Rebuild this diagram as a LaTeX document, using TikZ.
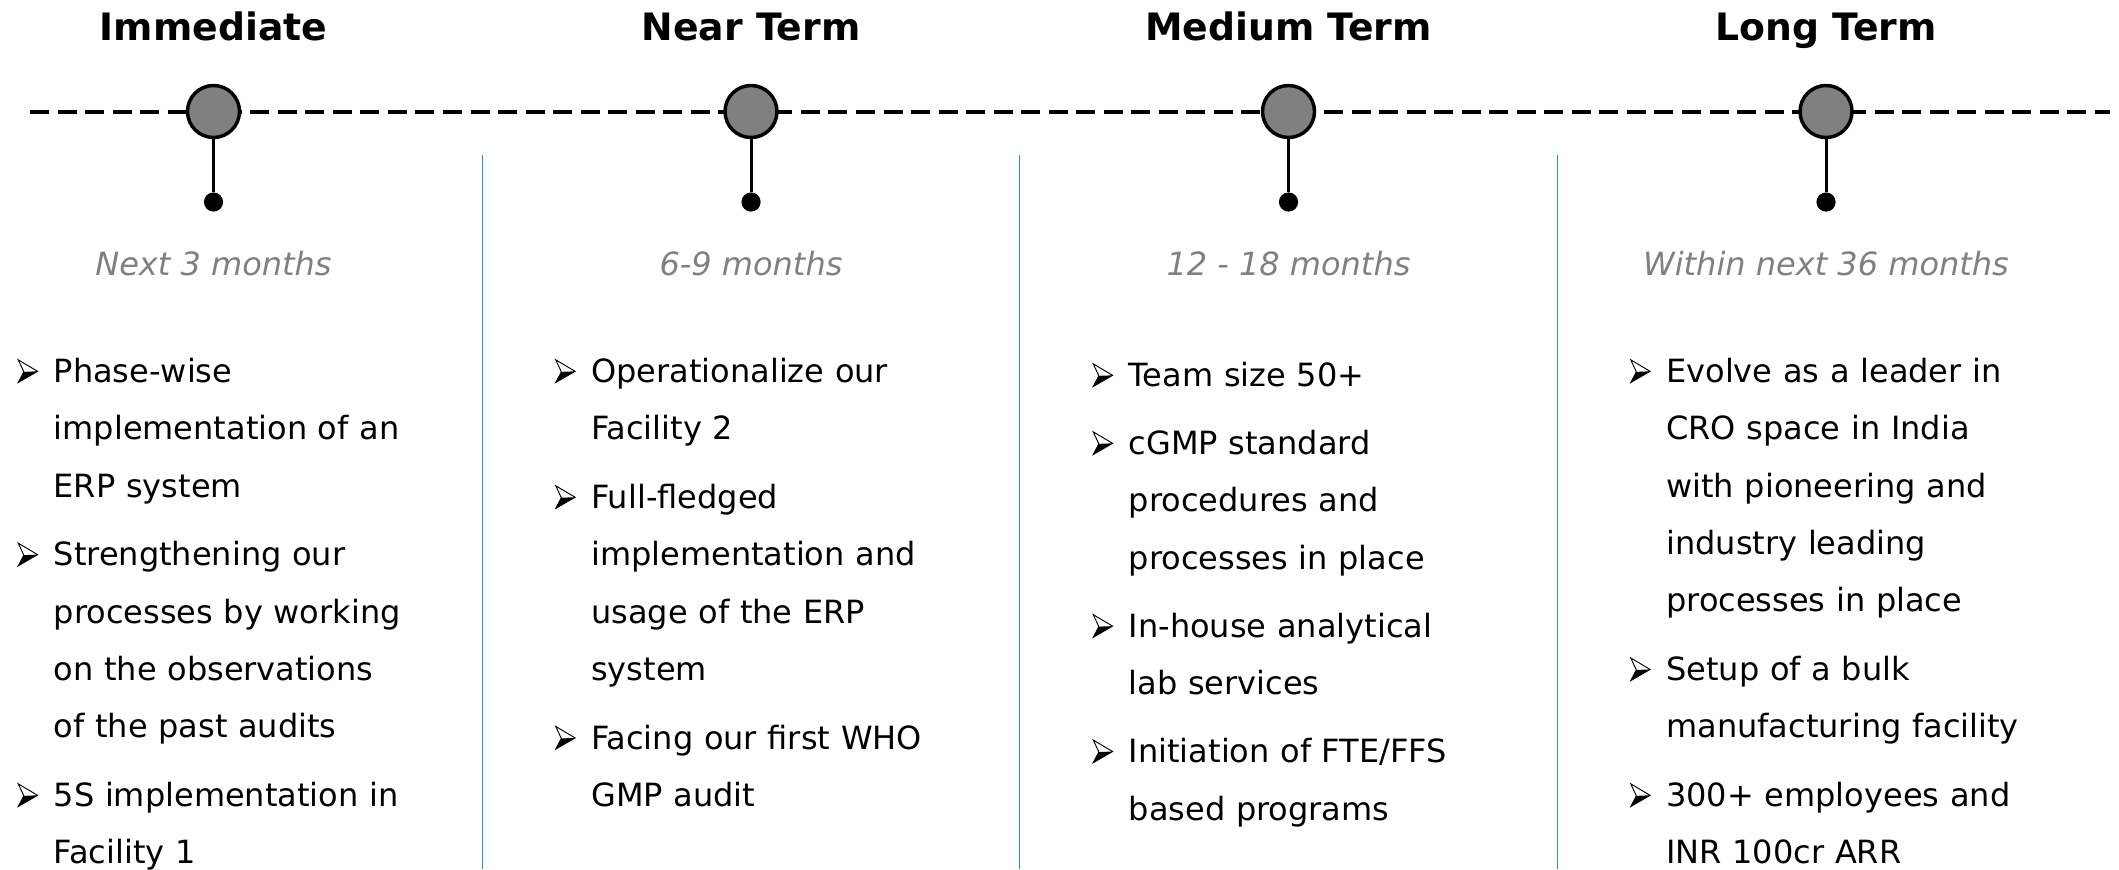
\documentclass[tikz,border=0pt]{standalone}
\usepackage{fontspec}
\setmainfont{DejaVu Sans}
\usetikzlibrary{positioning}
\definecolor{sepblue}{RGB}{32,152,200}
\definecolor{subgray}{RGB}{128,128,128}
\tikzset{
	phase/.style={font=\fontsize{28.3pt}{34pt}\selectfont\bfseries, anchor=base, inner sep=0pt},
	milestone/.style={circle, draw=black, line width=2.6pt, fill=gray, minimum size=39pt, inner sep=0pt},
	enddot/.style={circle, fill=black, minimum size=14.4pt, inner sep=0pt},
	period/.style={font=\fontsize{24pt}{29pt}\selectfont\itshape, text=subgray, anchor=base, inner sep=0pt},
	goal/.style={font=\fontsize{24pt}{43pt}\selectfont, anchor=base west, align=left, text width=300pt, inner sep=0pt},
	stem/.style={line width=2.25pt},
	timeline/.style={line width=3pt, dash pattern=on 14.25pt off 6.4pt},
	divider/.style={draw=sepblue, line width=1.1pt}
}
% 3-D arrowhead bullet, hung into the left margin of an item
\newcommand{\arrowitem}{\llap{\tikz[baseline=0pt, x=1pt, y=1pt]{%
	\fill (0,0) -- (14.5,8.4) -- (4.2,8) -- cycle;
	\draw [line width=0.7pt, line join=miter] (0,17) -- (14.5,8.4) -- (0,0) -- (4.2,8) -- cycle;}%
	\hspace{11.8pt}}}

\begin{document}
\begin{tikzpicture}[x=0.75pt, y=-0.75pt]
	\useasboundingbox (0, 0) rectangle (2119, 869);

	% dashed time axis, behind the milestones
	\coordinate (axis-l) at (30, 111.5);
	\coordinate (axis-r) at (2110, 111.5);
	\draw [timeline] (axis-l) -- (axis-r);

	% column dividers
	\coordinate (div1-t) at (482.25, 155);   \coordinate (div1-b) at (482.25, 869);
	\coordinate (div2-t) at (1019.75, 155);  \coordinate (div2-b) at (1019.75, 869);
	\coordinate (div3-t) at (1557.25, 155);  \coordinate (div3-b) at (1557.25, 869);
	\draw [divider] (div1-t) -- (div1-b);
	\draw [divider] (div2-t) -- (div2-b);
	\draw [divider] (div3-t) -- (div3-b);

	% headings
	\node [phase] (imm-title) at (213.5, 40.7) {Immediate};
	\node [phase] (near-title) at (751, 40.7) {Near Term};
	\node [phase] (med-title) at (1288.5, 40.7) {Medium Term};
	\node [phase] (long-title) at (1826, 40.7) {Long Term};

	% milestones
	\node [milestone] (imm) at (213.5, 111.5) {};
	\node [milestone] (near) at (751, 111.5) {};
	\node [milestone] (med) at (1288.5, 111.5) {};
	\node [milestone] (long) at (1826, 111.5) {};

	\node [enddot] (imm-dot) at (213.5, 202) {};
	\node [enddot] (near-dot) at (751, 202) {};
	\node [enddot] (med-dot) at (1288.5, 202) {};
	\node [enddot] (long-dot) at (1826, 202) {};

	\draw [stem] (imm) to (imm-dot);
	\draw [stem] (near) to (near-dot);
	\draw [stem] (med) to (med-dot);
	\draw [stem] (long) to (long-dot);

	% time frames
	\node [period] (imm-time) at (213.5, 275) {Next 3 months};
	\node [period] (near-time) at (751, 275) {6-9 months};
	\node [period] (med-time) at (1288.5, 275) {12 - 18 months};
	\node [period] (long-time) at (1826, 275) {Within next 36 months};

	% Immediate
	\node [goal] (imm-a) at (53.5, 382.5) {\arrowitem Phase-wise\\implementation of an\\ERP system};
	\node [goal] (imm-b) at (53.5, 565.8) {\arrowitem Strengthening our\\processes by working\\on the observations\\of the past audits};
	\node [goal] (imm-c) at (53.5, 806.5) {\arrowitem 5S implementation in\\Facility 1};

	% Near Term
	\node [goal] (near-a) at (591, 382.5) {\arrowitem Operationalize our\\Facility 2};
	\node [goal] (near-b) at (591, 508.4) {\arrowitem Full-fledged\\implementation and\\usage of the ERP\\system};
	\node [goal] (near-c) at (591, 749.1) {\arrowitem Facing our first WHO\\GMP audit};

	% Medium Term
	\node [goal] (med-a) at (1128.5, 386.5) {\arrowitem Team size 50+};
	\node [goal] (med-b) at (1128.5, 454.5) {\arrowitem cGMP standard\\procedures and\\processes in place};
	\node [goal] (med-c) at (1128.5, 637.3) {\arrowitem In-house analytical\\lab services};
	\node [goal] (med-d) at (1128.5, 762.7) {\arrowitem Initiation of FTE/FFS\\based programs};

	% Long Term
	\node [goal] (long-a) at (1666, 382.5) {\arrowitem Evolve as a leader in\\CRO space in India\\with pioneering and\\industry leading\\processes in place};
	\node [goal] (long-b) at (1666, 680.6) {\arrowitem Setup of a bulk\\manufacturing facility};
	\node [goal] (long-c) at (1666, 806.5) {\arrowitem 300+ employees and\\INR 100cr ARR};
\end{tikzpicture}
\end{document}
